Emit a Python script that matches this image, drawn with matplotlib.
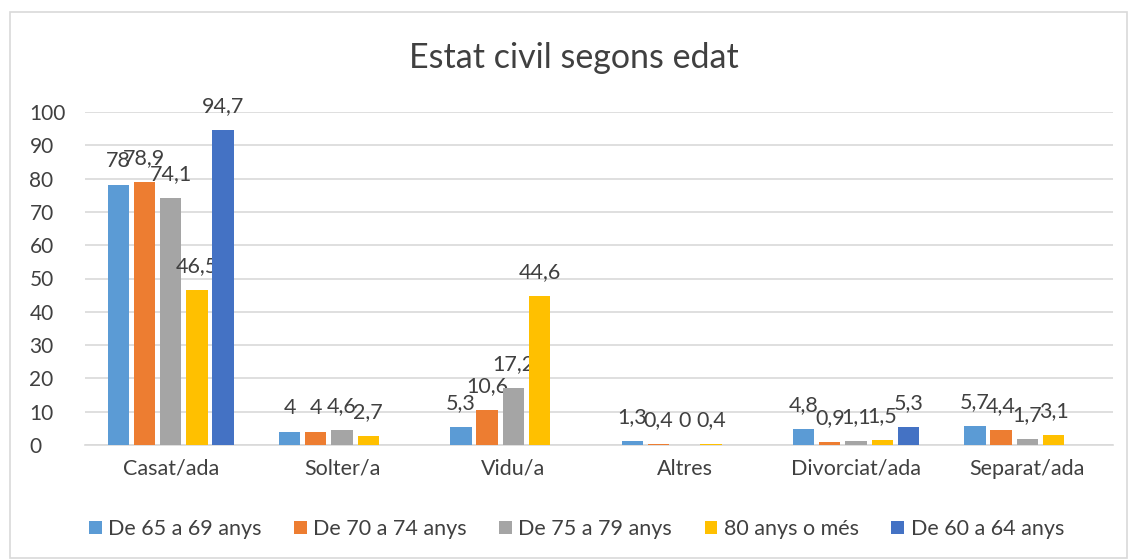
import numpy as np
import matplotlib
matplotlib.use("Agg")
import matplotlib.pyplot as plt
from matplotlib.patches import Rectangle

categories = ["Casat/ada", "Solter/a", "Vidu/a", "Altres", "Divorciat/ada", "Separat/ada"]
series_names = ["De 65 a 69 anys", "De 70 a 74 anys", "De 75 a 79 anys", "80 anys o més", "De 60 a 64 anys"]
v_65_69 = [78, 4, 5.3, 1.3, 4.8, 5.7]
v_70_74 = [78.9, 4, 10.6, 0.4, 0.9, 4.4]
v_75_79 = [74.1, 4.6, 17.2, 0, 1.1, 1.7]
v_80_mes = [46.5, 2.7, 44.6, 0.4, 1.5, 3.1]
v_60_64 = [94.7, np.nan, np.nan, np.nan, 5.3, np.nan]
series = [v_65_69, v_70_74, v_75_79, v_80_mes, v_60_64]
colors = ["#5B9BD5", "#ED7D31", "#A5A5A5", "#FFC000", "#4472C4"]

plt.rcParams["font.family"] = ["Lato", "DejaVu Sans"]
TXT = "#404040"

fig = plt.figure(figsize=(11.3, 5.59), dpi=100)
fig.patches.append(Rectangle((10 / 1130, 0.002), 1 - 13 / 1130, 1 - 12 / 559 - 0.002, transform=fig.transFigure,
                             fill=False, edgecolor="#d9d9d9", lw=1.2))
ax = fig.add_axes([85 / 1130, 1 - 445 / 559, (1113 - 85) / 1130, (445 - 112) / 559])

x = np.arange(len(categories))
step, w = 0.153, 0.124
for i, (vals, name, c) in enumerate(zip(series, series_names, colors)):
    pos = x + (i - 2) * step
    ax.bar(pos, vals, width=w, color=c, label=name, zorder=3)
    for p, v in zip(pos, vals):
        if np.isnan(v):
            continue
        lab = (f"{v:g}").replace(".", ",")
        ax.annotate(lab, (p, v), xytext=(0, 10), textcoords="offset points",
                    ha="center", va="bottom", fontsize=15.5, color=TXT)

ax.set_xlim(-0.5, len(categories) - 0.5)
ax.set_ylim(0, 100)
ax.set_yticks(range(0, 101, 10))
ax.set_xticks(x)
ax.set_xticklabels(categories)
ax.tick_params(axis="both", length=0, labelsize=15, labelcolor=TXT)
ax.tick_params(axis="x", labelsize=15.5, pad=10)
ax.tick_params(axis="y", pad=40)
for t in ax.get_yticklabels():
    t.set_horizontalalignment("left")
ax.grid(axis="y", color="#d9d9d9", lw=1.2, zorder=0)
for s in ["top", "right", "left"]:
    ax.spines[s].set_visible(False)
ax.spines["bottom"].set_color("#d9d9d9")
ax.spines["bottom"].set_linewidth(1.2)

fig.text(0.508, 1 - 58 / 559, "Estat civil segons edat", ha="center", va="center", fontsize=24.5, color=TXT)
fig.legend(loc="center", bbox_to_anchor=(0.51, 1 - 529 / 559), ncol=5, frameon=False, fontsize=15.5,
           handlelength=0.6, handleheight=0.6, handletextpad=0.3, columnspacing=1.5, labelcolor=TXT)

fig.savefig("out.png", dpi=100)
